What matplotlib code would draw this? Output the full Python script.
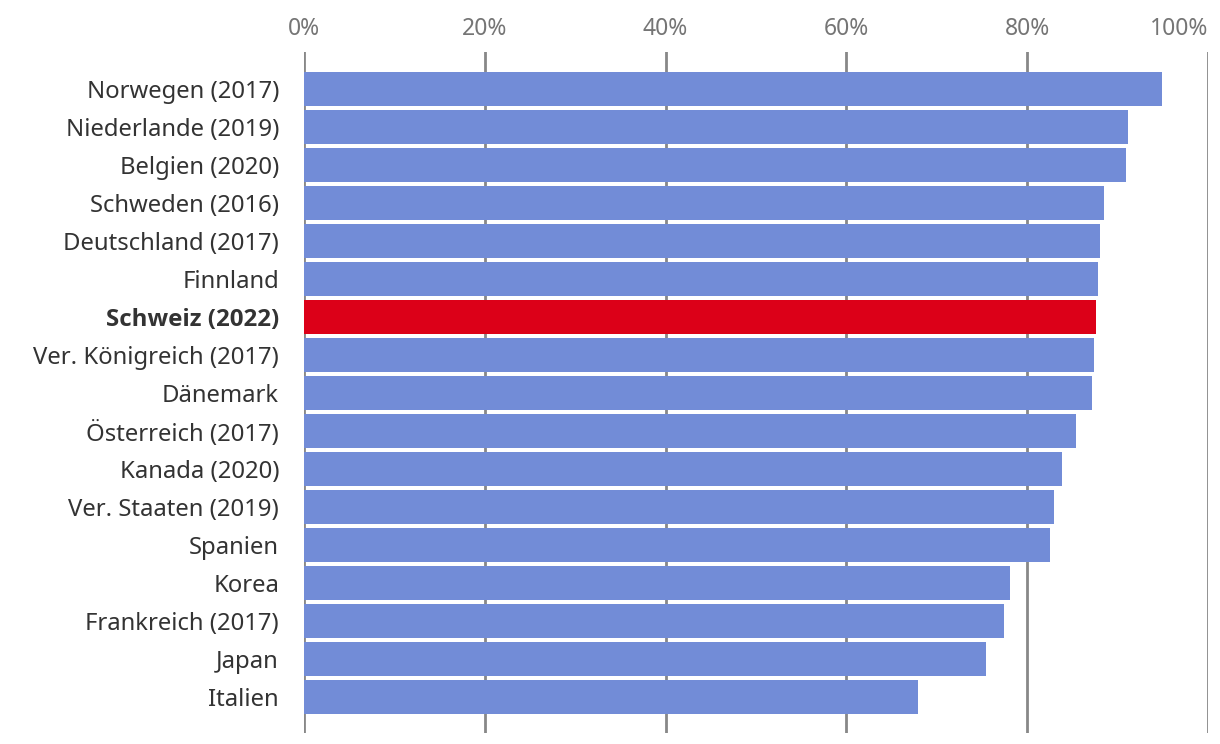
import matplotlib.pyplot as plt
import numpy as np

countries = ["Norwegen (2017)", "Niederlande (2019)", "Belgien (2020)", "Schweden (2016)",
             "Deutschland (2017)", "Finnland", "Schweiz (2022)", "Ver. Königreich (2017)",
             "Dänemark", "Österreich (2017)", "Kanada (2020)", "Ver. Staaten (2019)",
             "Spanien", "Korea", "Frankreich (2017)", "Japan", "Italien"]
values = [94.9, 91.2, 90.9, 88.5, 88.05, 87.8, 87.6, 87.4, 87.2, 85.4, 83.8, 83.0,
          82.5, 78.1, 77.4, 75.4, 67.9]
highlight = "Schweiz (2022)"
xticks = [0, 20, 40, 60, 80, 100]

plt.rcParams['font.family'] = ['Noto Sans', 'DejaVu Sans']

fig = plt.figure(figsize=(12.2, 7.44), dpi=100)
ax = fig.add_axes([304 / 1220, 1 - 733 / 744, 904 / 1220, 681 / 744])

y = np.arange(len(countries))
colors = ["#DC0018" if c == highlight else "#728CD7" for c in countries]
ax.barh(y, values, height=0.895, color=colors, zorder=2)

ax.set_xlim(0, 100)
ax.set_ylim(len(countries) - 1 + 0.95, -0.97)
ax.set_xticks(xticks)
ax.set_xticklabels([f"{t}%" for t in xticks])
ax.xaxis.tick_top()
ax.tick_params(axis='x', length=0, pad=8, labelsize=16.5, labelcolor="#757575")
# last label sits left of the 100% line so it stays inside
ax.get_xticklabels()[-1].set_horizontalalignment("right")
ax.set_yticks(y)
ax.set_yticklabels(countries)
ax.tick_params(axis='y', length=0, pad=18, labelsize=17.2, labelcolor="#333333")
for lbl in ax.get_yticklabels():
    if lbl.get_text() == highlight:
        # Noto Sans has no bold here, Open Sans does
        lbl.set_fontfamily(['Open Sans', 'DejaVu Sans'])
        lbl.set_fontweight("bold")
        lbl.set_fontsize(17.4)

for t in xticks:
    ax.axvline(t, color="#888888", lw=2, zorder=1)
for s in ax.spines.values():
    s.set_visible(False)

fig.savefig("out.png", dpi=100)
